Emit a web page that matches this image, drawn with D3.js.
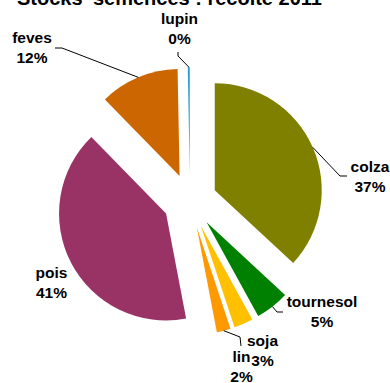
<!DOCTYPE html>
<html>
<head>
<meta charset="utf-8">
<script src="https://cdn.jsdelivr.net/npm/d3@7"></script>
<style>
  html, body { margin: 0; padding: 0; background: #fff; }
  svg { display: block; }
  text { font-family: "Liberation Sans", Arial, sans-serif; font-weight: bold; fill: #000; }
</style>
</head>
<body>
<svg id="chart" width="390" height="383"></svg>
<script>
// Seed stocks, 2011 harvest (share of total, %)
const categories = ["colza", "tournesol", "soja", "lin", "pois", "feves", "lupin"];
const shares     = [36.9, 5.1, 2.9, 2.1, 40.7, 12.0, 0.3];
const colors     = ["#808000", "#008000", "#FFC000", "#FF9900", "#993366", "#CC6600", "#2E9AD8"];
const title      = "Stocks' semences : récolte 2011";

const svg = d3.select("#chart");
const cx = 190, cy = 201, R = 107, explode = 27;

const data = categories.map((c, i) => ({ name: c, value: shares[i], color: colors[i] }));

const pie = d3.pie().value(d => d.value).sort(null).startAngle(0).endAngle(2 * Math.PI);
const arcs = pie(data);
const arc = d3.arc().innerRadius(0).outerRadius(R);

const mid = a => (a.startAngle + a.endAngle) / 2;
const offset = (a, r) => [Math.sin(mid(a)) * r, -Math.cos(mid(a)) * r];

const g = svg.append("g").attr("transform", `translate(${cx},${cy})`);

// Exploded slices: each wedge pushed outward along its bisector
g.selectAll("path.slice")
  .data(arcs)
  .join("path")
  .attr("class", "slice")
  .attr("d", arc)
  .attr("fill", d => d.data.color)
  .attr("transform", d => {
    const [dx, dy] = offset(d, explode);
    return `translate(${dx},${dy})`;
  });

// Title (top of the card)
svg.append("text")
  .attr("x", 17).attr("y", 5)
  .attr("font-size", 20)
  .text(title);

// Label placement (absolute page coordinates) and optional leader bends
const labelLayout = {
  colza:     { x: 370,   y: 172, leader: [[340, 176], [347, 176]] },
  tournesol: { x: 322,   y: 307, leader: [[277, 312], [283, 312]] },
  soja:      { x: 262.5, y: 346, leader: null },
  lin:       { x: 241.5, y: 362, leader: [[240, 337], [241, 346]] },
  pois:      { x: 51.5,  y: 278, leader: null },
  feves:     { x: 32,    y: 43,  leader: [[62, 48], [55, 48]] },
  lupin:     { x: 179.5, y: 24,  leader: [[178, 56], [178, 52]] }
};

const labels = svg.append("g");
arcs.forEach(a => {
  const L = labelLayout[a.data.name];
  if (L.leader) {
    const [ox, oy] = offset(a, explode + R);
    const pts = [[cx + ox, cy + oy]].concat(L.leader);
    labels.append("path")
      .attr("d", d3.line()(pts))
      .attr("fill", "none")
      .attr("stroke", "#000")
      .attr("stroke-width", 1);
  }
  const t = labels.append("text")
    .attr("x", L.x).attr("y", L.y)
    .attr("text-anchor", "middle")
    .attr("font-size", 15.5);
  t.append("tspan").attr("x", L.x).text(a.data.name);
  t.append("tspan").attr("x", L.x).attr("dy", 19.5)
    .text(Math.round(a.data.value) + "%");
});
</script>
</body>
</html>
